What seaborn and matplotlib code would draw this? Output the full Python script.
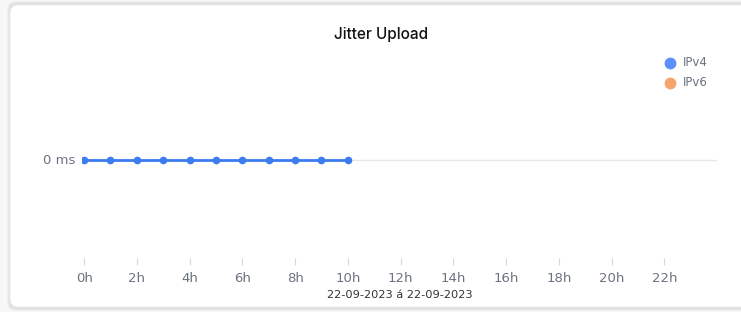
import matplotlib
matplotlib.use("Agg")
import matplotlib.pyplot as plt
from matplotlib.patches import FancyBboxPatch
from matplotlib.lines import Line2D
from matplotlib.transforms import Bbox
import seaborn as sns
import pandas as pd

title = "Jitter Upload"
date_label = "22-09-2023 á 22-09-2023"
hours_ipv4 = [0, 1, 2, 3, 4, 5, 6, 7, 8, 9, 10]
jitter_ipv4 = [0, 0, 0, 0, 0, 0, 0, 0, 0, 0, 0]
hours_ipv6 = []
jitter_ipv6 = []
xticks = [0, 2, 4, 6, 8, 10, 12, 14, 16, 18, 20, 22]
xtick_labels = [f"{h}h" for h in xticks]
series_names = ["IPv4", "IPv6"]
series_colors = ["#5b8ff9", "#f4a46c"]
line_color = "#3b7cf0"

sns.set_theme(style="white")
plt.rcParams['font.family'] = ['DejaVu Sans']

W, H = 741, 312
fig = plt.figure(figsize=(W / 100, H / 100), dpi=100)
fig.patch.set_facecolor("#f7f7f7")

# card with soft shadow
for i, a in enumerate([0.03, 0.03, 0.04]):
    off = 3 - i
    fig.patches.append(FancyBboxPatch((10 - off, 4 - off), 740, 304 + 2 * off,
                                      boxstyle="round,pad=0,rounding_size=8",
                                      transform=None, facecolor="black", alpha=a,
                                      edgecolor="none", zorder=0))
card = FancyBboxPatch((10, 5), 740, 302, boxstyle="round,pad=0,rounding_size=8",
                      transform=None, facecolor="white", edgecolor="#ececec",
                      linewidth=0.8, zorder=0.5)
fig.patches.append(card)

def fx(px):
    return px / W

def fy(py):
    return 1 - py / H

ax_left, ax_right = 82, 717
ax_top, ax_bot = 61, 258
ax = fig.add_axes([fx(ax_left), fy(ax_bot), fx(ax_right - ax_left), (ax_bot - ax_top) / H])
ax.set_facecolor("none")
ax.set_zorder(2)

df4 = pd.DataFrame({"hour": hours_ipv4, "jitter": jitter_ipv4})
sns.lineplot(data=df4, x="hour", y="jitter", ax=ax, color=line_color, linewidth=2,
             marker="o", markersize=5.5, markeredgewidth=0, zorder=3)
if len(hours_ipv6):
    df6 = pd.DataFrame({"hour": hours_ipv6, "jitter": jitter_ipv6})
    sns.lineplot(data=df6, x="hour", y="jitter", ax=ax, color=series_colors[1], linewidth=2,
                 marker="o", markersize=5.5, markeredgewidth=0, zorder=3)

ax.axhline(0, color="#e8e8ec", linewidth=1, zorder=1)
ax.set_xlim(-0.08, 24.0)
ax.set_ylim(-1, 1)
ax.set_xticks(xticks)
ax.set_xticklabels(xtick_labels)
ax.set_yticks([0])
ax.set_yticklabels(["0 ms"])
ax.tick_params(axis="x", length=5, width=0.8, color="#d8d8d8", labelcolor="#6b7280",
               labelsize=9.5, pad=5, bottom=True)
ax.tick_params(axis="y", length=0, labelcolor="#6b7280", labelsize=9.5, pad=5)
ax.set_xlabel("")
ax.set_ylabel("")
for s in ax.spines.values():
    s.set_visible(False)

fig.text(fx(381), fy(34), title, ha="center", va="center", fontsize=11,
         color="#111111", family=["Inter", "DejaVu Sans"], fontweight="medium")

t = fig.text(fx(400), fy(295.5), date_label, ha="center", va="center", fontsize=8.2,
             color="#333333")
t.set_clip_on(True)
t.set_clip_box(Bbox([[0, 14.5], [W, H]]))

# legend
for i, (name, col) in enumerate(zip(series_names, series_colors)):
    y = 63 + 20 * i
    fig.lines.append(Line2D([fx(670)], [fy(y)], marker="o", markersize=8.5,
                            color=col, markeredgewidth=0, transform=fig.transFigure))
    fig.text(fx(683), fy(y), name, ha="left", va="center", fontsize=8.5, color="#6b7280")

fig.savefig("out.png", dpi=100, facecolor=fig.get_facecolor())
